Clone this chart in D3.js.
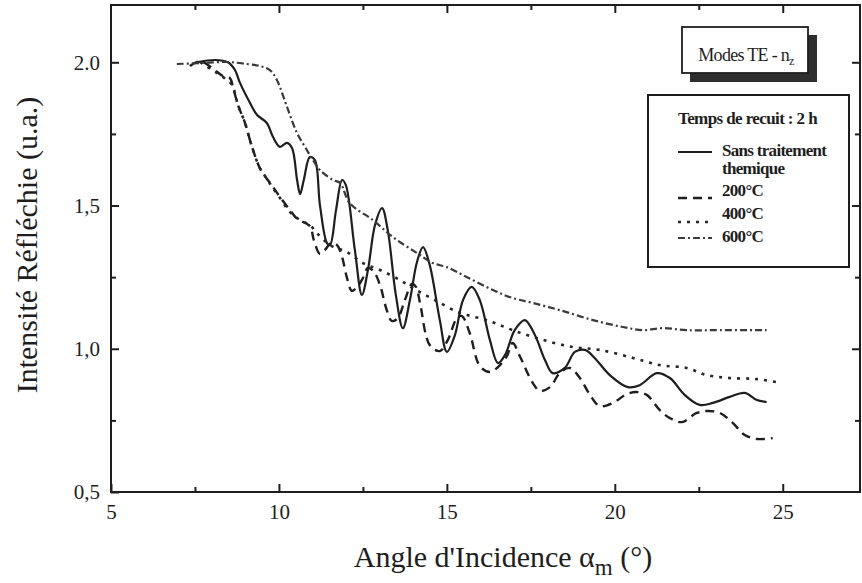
<!DOCTYPE html>
<html>
<head>
<meta charset="utf-8">
<script src="https://cdn.jsdelivr.net/npm/d3@7/dist/d3.min.js"></script>
<style>
  html, body { margin: 0; padding: 0; background: #ffffff; }
  svg { display: block; }
</style>
</head>
<body>
<svg id="chart" width="862" height="583"></svg>
<script>
// ---------- data ----------
const xTicks = [5, 10, 15, 20, 25];
const xTickLabels = ["5", "10", "15", "20", "25"];
const xMinorTicks = [7.5, 12.5, 17.5, 22.5];
const yTicks = [0.5, 1.0, 1.5, 2.0];
const yTickLabels = ["0,5", "1,0", "1,5", "2.0"];
const yMinorTicks = [0.75, 1.25, 1.75];

const seriesNames = ["Sans traitement", "themique", "200°C", "400°C", "600°C"];

// Sans traitement thermique (solid)
const sansTraitement = [
  [7.56,2.00],[8.10,2.008],[8.48,2.00],[8.69,1.973],[8.84,1.928],[9.14,1.858],[9.35,1.816],
  [9.64,1.788],[9.82,1.740],[10.03,1.705],[10.24,1.719],[10.39,1.701],[10.54,1.589],[10.63,1.540],
  [10.74,1.589],[10.92,1.669],[11.07,1.659],[11.22,1.502],[11.43,1.369],[11.52,1.362],[11.70,1.484],
  [11.88,1.589],[11.99,1.572],[12.26,1.345],[12.47,1.188],[12.65,1.275],[12.86,1.432],[13.07,1.491],
  [13.24,1.414],[13.48,1.188],[13.69,1.072],[13.90,1.170],[14.11,1.303],[14.29,1.355],[14.49,1.292],
  [14.79,1.100],[15.00,0.989],[15.24,1.048],[15.48,1.170],[15.74,1.216],[15.98,1.170],[16.28,1.031],
  [16.52,0.950],[16.73,0.978],[17.02,1.065],[17.32,1.100],[17.62,1.048],[17.92,0.961],[18.15,0.915],
  [18.51,0.933],[18.81,0.989],[19.11,0.996],[19.40,0.968],[19.85,0.908],[20.39,0.866],[20.74,0.873],
  [21.25,0.915],[21.64,0.898],[22.08,0.839],[22.53,0.804],[22.92,0.811],[23.42,0.832],[23.87,0.846],
  [24.23,0.821],[24.52,0.814]
];

// 200 °C (dashed)
const recuit200 = [
  [7.35,1.987],[7.65,2.004],[8.01,1.980],[8.33,1.952],[8.54,1.945],[8.63,1.914],[8.78,1.851],
  [8.99,1.788],[9.20,1.704],[9.43,1.631],[9.58,1.603],[9.82,1.565],[10.03,1.530],[10.33,1.484],
  [10.54,1.454],[10.92,1.428],[11.04,1.379],[11.22,1.331],[11.37,1.345],[11.55,1.369],[11.73,1.362],
  [11.88,1.320],[12.02,1.250],[12.17,1.202],[12.35,1.219],[12.50,1.247],[12.65,1.282],[12.83,1.268],
  [13.01,1.222],[13.21,1.135],[13.36,1.097],[13.54,1.107],[13.75,1.170],[13.96,1.226],[14.08,1.216],
  [14.20,1.160],[14.49,1.013],[14.79,0.992],[15.03,1.031],[15.30,1.107],[15.45,1.114],[15.68,1.055],
  [15.98,0.940],[16.28,0.919],[16.58,0.943],[16.79,0.975],[16.96,1.020],[17.17,0.975],[17.56,0.880],
  [17.77,0.853],[18.07,0.866],[18.36,0.915],[18.66,0.933],[18.96,0.898],[19.26,0.839],[19.55,0.800],
  [19.94,0.811],[20.36,0.842],[20.65,0.849],[20.95,0.839],[21.34,0.786],[21.64,0.758],[21.99,0.744],
  [22.44,0.776],[22.77,0.783],[23.13,0.776],[23.51,0.741],[23.87,0.699],[24.23,0.685],[24.70,0.688]
];

// 400 °C (dotted)
const recuit400 = [
  [7.65,2.001],[8.01,1.973],[8.33,1.949],[8.60,1.921],[8.78,1.851],[8.99,1.788],[9.20,1.704],
  [9.43,1.631],[9.61,1.599],[9.82,1.561],[10.03,1.526],[10.33,1.477],[10.63,1.449],[10.92,1.432],
  [11.13,1.404],[11.52,1.362],[12.02,1.338],[12.50,1.299],[13.01,1.275],[13.60,1.240],[13.99,1.212],
  [14.58,1.174],[15.39,1.125],[16.19,1.100],[16.96,1.065],[17.86,1.031],[18.75,1.006],[19.55,0.996],
  [20.54,0.968],[21.34,0.943],[22.14,0.933],[22.74,0.908],[23.42,0.898],[24.23,0.894],[24.97,0.880]
];

// 600 °C (dash-dot)
const recuit600 = [
  [6.96,1.994],[7.65,1.997],[8.45,2.001],[9.05,1.994],[9.43,1.987],[9.73,1.973],[9.94,1.938],
  [10.24,1.844],[10.54,1.753],[10.83,1.694],[11.01,1.659],[11.22,1.624],[11.61,1.589],[11.82,1.579],
  [12.11,1.508],[12.80,1.449],[13.39,1.390],[14.11,1.334],[14.58,1.299],[15.00,1.285],[15.60,1.250],
  [16.37,1.205],[16.96,1.177],[17.56,1.160],[18.36,1.135],[19.35,1.100],[20.24,1.076],[20.83,1.065],
  [21.43,1.072],[22.14,1.065],[23.13,1.065],[24.52,1.065]
];

// ---------- drawing ----------
const FONT = "'Liberation Serif', 'Times New Roman', Times, serif";
const svg = d3.select("#chart").attr("font-family", FONT);
const x = d3.scaleLinear().domain([5, 27.3]).range([111, 860]);
const y = d3.scaleLinear().domain([0.5, 2.2]).range([492, 5]);
const ink = "#1e1e1e";

function txt(sel, size, weight) {
  return sel.style("font-family", FONT).style("font-size", size + "px")
    .style("font-weight", weight || "normal").attr("fill", ink);
}

// frame
svg.append("rect")
  .attr("x", x(5)).attr("y", y(2.2))
  .attr("width", x(27.3) - x(5)).attr("height", y(0.5) - y(2.2))
  .attr("fill", "none").attr("stroke", ink).attr("stroke-width", 2);

function styleAxis(g) {
  g.attr("font-family", FONT);
  g.select(".domain").remove();
  g.selectAll(".tick line").attr("stroke", ink).attr("stroke-width", 2);
  g.selectAll("text").call(txt, 21);
}

// bottom major
svg.append("g").attr("transform", `translate(0,${y(0.5)})`)
  .call(d3.axisBottom(x).tickValues(xTicks).tickSize(-8).tickPadding(12)
    .tickFormat((d, i) => xTickLabels[i]))
  .call(styleAxis);
// bottom minor
svg.append("g").attr("transform", `translate(0,${y(0.5)})`)
  .call(d3.axisBottom(x).tickValues(xMinorTicks).tickSize(-5).tickFormat(""))
  .call(styleAxis);
// top
svg.append("g").attr("transform", `translate(0,${y(2.2)})`)
  .call(d3.axisTop(x).tickValues(xTicks.slice(1)).tickSize(-8).tickFormat(""))
  .call(styleAxis);
svg.append("g").attr("transform", `translate(0,${y(2.2)})`)
  .call(d3.axisTop(x).tickValues(xMinorTicks).tickSize(-5).tickFormat(""))
  .call(styleAxis);
// left
svg.append("g").attr("transform", `translate(${x(5)},0)`)
  .call(d3.axisLeft(y).tickValues(yTicks).tickSize(-8).tickPadding(11)
    .tickFormat((d, i) => yTickLabels[i]))
  .call(styleAxis);
svg.append("g").attr("transform", `translate(${x(5)},0)`)
  .call(d3.axisLeft(y).tickValues(yMinorTicks).tickSize(-5).tickFormat(""))
  .call(styleAxis);
// right
svg.append("g").attr("transform", `translate(${x(27.3)},0)`)
  .call(d3.axisRight(y).tickValues(yTicks.slice(1)).tickSize(-8).tickFormat(""))
  .call(styleAxis);
svg.append("g").attr("transform", `translate(${x(27.3)},0)`)
  .call(d3.axisRight(y).tickValues(yMinorTicks).tickSize(-5).tickFormat(""))
  .call(styleAxis);

// curves
const line = d3.line().x(d => x(d[0])).y(d => y(d[1])).curve(d3.curveCatmullRom.alpha(0.5));
const styles = [
  { data: sansTraitement, dash: null, color: "#1e1e1e", w: 2.2 },
  { data: recuit200, dash: "9,6", color: "#1e1e1e", w: 2.4 },
  { data: recuit400, dash: "3,6", color: "#262626", w: 2.6 },
  { data: recuit600, dash: "7,3,2,3", color: "#3a3a3a", w: 2.2 }
];
styles.forEach(s => {
  svg.append("path").datum(s.data)
    .attr("d", line).attr("fill", "none")
    .attr("stroke", s.color).attr("stroke-width", s.w)
    .attr("stroke-dasharray", s.dash)
    .attr("stroke-linejoin", "round");
});

// axis titles
const xt = svg.append("text").attr("x", 503).attr("y", 567)
  .attr("text-anchor", "middle").call(txt, 30);
xt.append("tspan").text("Angle d'Incidence \u03B1");
xt.append("tspan").attr("dy", 8).style("font-size", "23px").text("m");
xt.append("tspan").attr("dy", -8).text(" (\u00B0)");

svg.append("text")
  .attr("transform", "translate(37,245) rotate(-90)")
  .attr("text-anchor", "middle").call(txt, 30)
  .text("Intensit\u00E9 R\u00E9fl\u00E9chie (u.a.)");

// "Modes TE - nz" box with shadow
svg.append("rect").attr("x", 690).attr("y", 35).attr("width", 127).attr("height", 47)
  .attr("fill", "#2e2e2e");
svg.append("rect").attr("x", 682).attr("y", 27).attr("width", 126).attr("height", 46)
  .attr("fill", "#ffffff").attr("stroke", ink).attr("stroke-width", 1.8);
const mt = svg.append("text").attr("x", 746).attr("y", 61).attr("text-anchor", "middle")
  .call(txt, 18).style("letter-spacing", "-0.7px");
mt.append("tspan").text("Modes TE - n");
mt.append("tspan").attr("dy", 4).style("font-size", "12px").text("z");

// legend box
svg.append("rect").attr("x", 648).attr("y", 95).attr("width", 201).attr("height", 172)
  .attr("fill", "#ffffff").attr("stroke", ink).attr("stroke-width", 2);
svg.append("text").attr("x", 678).attr("y", 124)
  .call(txt, 17, "bold").style("letter-spacing", "-0.6px")
  .text("Temps de recuit : 2 h");

const legendRows = [
  { label: seriesNames[0], ty: 156, ly: 152, style: styles[0] },
  { label: seriesNames[1], ty: 174, ly: null, style: null },
  { label: seriesNames[2], ty: 196, ly: 198, style: styles[1] },
  { label: seriesNames[3], ty: 219, ly: 222, style: styles[2] },
  { label: seriesNames[4], ty: 242, ly: 238, style: styles[3] }
];
legendRows.forEach(r => {
  svg.append("text").attr("x", 722).attr("y", r.ty)
    .call(txt, 17, "bold").style("letter-spacing", "-0.7px")
    .text(r.label);
  if (r.style) {
    svg.append("line").attr("x1", 678).attr("x2", 712).attr("y1", r.ly).attr("y2", r.ly)
      .attr("stroke", r.style.color).attr("stroke-width", r.style.w)
      .attr("stroke-dasharray", r.style.dash);
  }
});
</script>
</body>
</html>
